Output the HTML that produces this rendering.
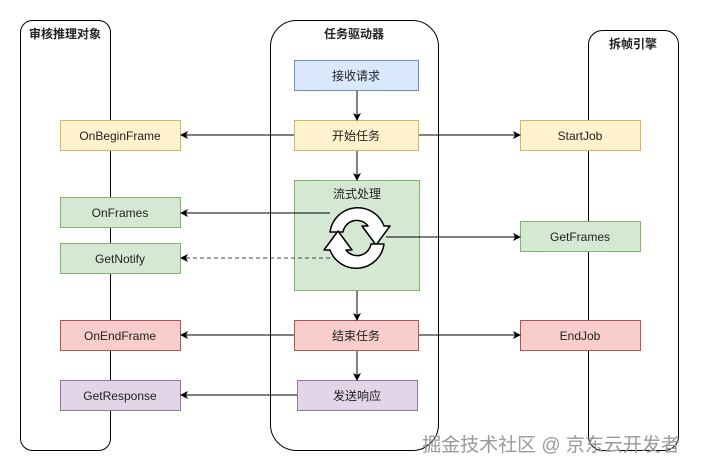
<!DOCTYPE html>
<html><head><meta charset="utf-8"><style>
body{margin:0;background:#fff;}
svg text{font-family:"Liberation Sans","Noto Sans CJK SC",sans-serif;font-size:12px;fill:#222;}
</style></head><body>
<svg width="701" height="471" viewBox="0 0 701 471" xmlns="http://www.w3.org/2000/svg">
<defs><marker id="a" markerWidth="8" markerHeight="8" refX="7" refY="4" orient="auto" markerUnits="userSpaceOnUse"><path d="M0,0 L8,4 L0,8 L2,4 z" fill="#000"/></marker></defs>
<g fill="none" stroke="#000" stroke-width="1">
<rect x="20.5" y="20.5" width="90" height="430" rx="12"/>
<rect x="270.5" y="20.5" width="168" height="430" rx="26"/>
<rect x="588.5" y="30.5" width="90" height="420" rx="14"/>
</g>
<g font-weight="bold" text-anchor="middle">
<text x="65" y="38" font-weight="bold">审核推理对象</text>
<text x="354" y="38" font-weight="bold">任务驱动器</text>
<text x="633" y="48" font-weight="bold">拆帧引擎</text>
</g>
<g stroke-width="1">
<rect x="294.5" y="60.5" width="124" height="30" fill="#dae8fc" stroke="#6c8ebf"/>
<rect x="294.5" y="120.5" width="124" height="30" fill="#fff2cc" stroke="#d6b656"/>
<rect x="294.5" y="180.5" width="125" height="110" fill="#d5e8d4" stroke="#82b366"/>
<rect x="294.5" y="320.5" width="124" height="30" fill="#f8cecc" stroke="#b85450"/>
<rect x="297.5" y="380.5" width="120" height="30" fill="#e1d5e7" stroke="#9673a6"/>
<rect x="60.5" y="120.5" width="120" height="30" fill="#fff2cc" stroke="#d6b656"/>
<rect x="60.5" y="197.5" width="120" height="30" fill="#d5e8d4" stroke="#82b366"/>
<rect x="60.5" y="243.5" width="120" height="30" fill="#d5e8d4" stroke="#82b366"/>
<rect x="60.5" y="320.5" width="120" height="30" fill="#f8cecc" stroke="#b85450"/>
<rect x="60.5" y="380.5" width="120" height="30" fill="#e1d5e7" stroke="#9673a6"/>
<rect x="520.5" y="120.5" width="120" height="30" fill="#fff2cc" stroke="#d6b656"/>
<rect x="520.5" y="221.5" width="120" height="30" fill="#d5e8d4" stroke="#82b366"/>
<rect x="520.5" y="320.5" width="120" height="30" fill="#f8cecc" stroke="#b85450"/>
</g>
<g text-anchor="middle">
<text x="356" y="80">接收请求</text>
<text x="356" y="140">开始任务</text>
<text x="357" y="198">流式处理</text>
<text x="356" y="340">结束任务</text>
<text x="357" y="400">发送响应</text>
<text x="120" y="140">OnBeginFrame</text>
<text x="120" y="217">OnFrames</text>
<text x="120" y="263">GetNotify</text>
<text x="120" y="340">OnEndFrame</text>
<text x="120" y="400">GetResponse</text>
<text x="580" y="140">StartJob</text>
<text x="580" y="241">GetFrames</text>
<text x="580" y="340">EndJob</text>
</g>
<g stroke="#000" stroke-width="1" fill="none" marker-end="url(#a)">
<path d="M357,91 V120"/><path d="M357,151 V180"/><path d="M357,291 V320"/><path d="M357,351 V380"/>
<path d="M294,135 H181"/><path d="M419,135 H520"/>
<path d="M330,213 H181"/><path d="M386,237 H520"/>
<path d="M330,258 H181" stroke-dasharray="4,3" stroke="#444"/>
<path d="M294,335 H181"/><path d="M419,335 H520"/>
<path d="M297,395 H181"/>
</g>
<g stroke-linejoin="round">
<path d="M330,232 A28,28 0 0 1 384,226 L390,226 L376,245 L362,226 L368,226 A14,14 0 0 0 343,232 Z" fill="#fff" stroke="#000" stroke-width="1.5"/>
<path d="M384,244 A28,28 0 0 1 330,250 L324,250 L338,231 L352,250 L346,250 A14,14 0 0 0 371,244 Z" fill="#fff" stroke="#000" stroke-width="1.5"/>
</g>
<text x="551" y="451" text-anchor="middle" style="font-size:19px;fill:#999;">掘金技术社区 @ 京东云开发者</text>
</svg>
</body></html>
